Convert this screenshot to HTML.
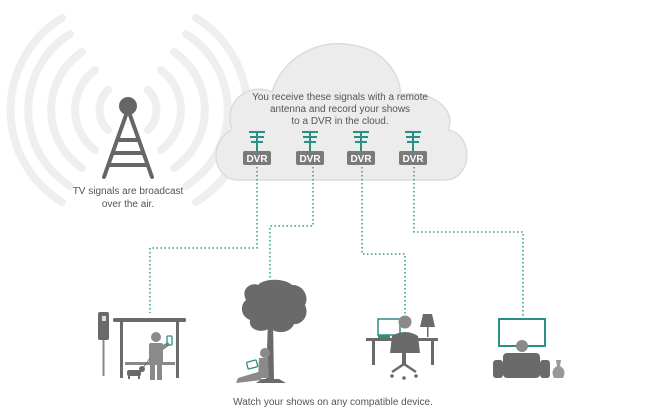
<!DOCTYPE html>
<html><head><meta charset="utf-8"><style>
html,body{margin:0;padding:0;background:#fff;}
svg{display:block;}
text{font-family:"Liberation Sans",sans-serif;fill:#555;}
</style></head><body>
<svg width="645" height="420" viewBox="0 0 645 420" xmlns="http://www.w3.org/2000/svg">
<defs>
  <g id="ant" stroke="#2a8f86" stroke-width="2" fill="none">
    <path d="M0 131 V151"/><path d="M-8 132 H8"/><path d="M-7 137 H7"/><path d="M-6 142 H6"/>
  </g>
</defs>
<!-- signal arcs -->
<g fill="none" stroke="#efefef" stroke-width="8" stroke-linecap="round">
  <path d="M108 90 A28 28 0 0 0 108 130"/><path d="M148 90 A28 28 0 0 1 148 130"/>
  <path d="M95 70 A50 50 0 0 0 95 150"/><path d="M161 70 A50 50 0 0 1 161 150"/>
  <path d="M82 52 A70 70 0 0 0 82 168"/><path d="M174 52 A70 70 0 0 1 174 168"/>
  <path d="M70 34 A90 90 0 0 0 70 186"/><path d="M186 34 A90 90 0 0 1 186 186"/>
  <path d="M62 18 A108 108 0 0 0 62 202"/><path d="M196 18 A108 108 0 0 1 196 202"/>
</g>
<!-- tower -->
<g fill="#666" stroke="#666">
  <circle cx="128" cy="106" r="9" stroke="none"/>
  <g stroke-width="4" fill="none" stroke-linecap="round">
    <path d="M126 115 L104 177"/><path d="M130 115 L152 177"/>
    <path d="M119 140 L137 140"/><path d="M114 153 L142 153"/><path d="M110 165 L146 165"/>
  </g>
</g>
<text x="128" y="194" font-size="10" text-anchor="middle">TV signals are broadcast</text>
<text x="128" y="207" font-size="10" text-anchor="middle">over the air.</text>
<!-- cloud -->
<path d="M238 180 C212 180 208 140 232 130 C222 100 250 82 272 92 C282 58 318 38 352 45 C388 50 402 80 400 95 C430 88 458 110 448 130 C475 135 472 180 445 180 Z" fill="#ececec" stroke="#dcdcdc" stroke-width="1.5"/>
<text x="340" y="100" font-size="10" text-anchor="middle">You receive these signals with a remote</text>
<text x="340" y="112" font-size="10" text-anchor="middle">antenna and record your shows</text>
<text x="340" y="124" font-size="10" text-anchor="middle">to a DVR in the cloud.</text>
<g transform="translate(257,0)"><use href="#ant"/><rect x="-14" y="151" width="28" height="14" rx="2" fill="#7a7a7a"/><text x="0" y="162" font-size="10" font-weight="bold" text-anchor="middle" style="fill:#fff">DVR</text></g>
<g transform="translate(310,0)"><use href="#ant"/><rect x="-14" y="151" width="28" height="14" rx="2" fill="#7a7a7a"/><text x="0" y="162" font-size="10" font-weight="bold" text-anchor="middle" style="fill:#fff">DVR</text></g>
<g transform="translate(361,0)"><use href="#ant"/><rect x="-14" y="151" width="28" height="14" rx="2" fill="#7a7a7a"/><text x="0" y="162" font-size="10" font-weight="bold" text-anchor="middle" style="fill:#fff">DVR</text></g>
<g transform="translate(413,0)"><use href="#ant"/><rect x="-14" y="151" width="28" height="14" rx="2" fill="#7a7a7a"/><text x="0" y="162" font-size="10" font-weight="bold" text-anchor="middle" style="fill:#fff">DVR</text></g>
<!-- dotted connectors -->
<g fill="none" stroke="#2a9a8c" stroke-width="1.5" stroke-dasharray="1.5 2.5">
  <path d="M257 167 V248 H150 V313"/>
  <path d="M313 167 V226 H270 V283"/>
  <path d="M362 167 V254 H405 V316"/>
  <path d="M414 167 V232 H523 V318"/>
</g>
<!-- bus stop -->
<g fill="#6a6a6a">
  <rect x="98" y="312" width="11" height="28" rx="2"/>
  <rect x="102" y="316" width="4" height="5" fill="#ddd"/>
  <rect x="102.5" y="340" width="2" height="36" fill="#888"/>
  <rect x="113" y="318" width="73" height="4" rx="1.5"/>
  <rect x="120" y="320" width="3" height="58"/>
  <rect x="176" y="320" width="3" height="58"/>
  <rect x="125" y="362" width="50" height="3" fill="#888"/>
  <circle cx="156" cy="337" r="5" fill="#8a8a8a"/>
  <rect x="149" y="343" width="14" height="20" rx="2" fill="#8a8a8a"/>
  <rect x="150" y="360" width="5" height="20" fill="#8a8a8a"/><rect x="157" y="360" width="5" height="20" fill="#8a8a8a"/>
  <path d="M161 346 L168 342 L170 345 L163 350Z" fill="#8a8a8a"/>
  <rect x="167" y="336" width="5" height="9" rx="1" fill="none" stroke="#2a8f86" stroke-width="1.3"/>
  <rect x="127" y="370" width="14" height="6" rx="2"/>
  <circle cx="142" cy="369" r="3"/>
  <rect x="128" y="374" width="2" height="5"/><rect x="138" y="374" width="2" height="5"/>
  <path d="M143 368 L150 358" stroke="#666" stroke-width="0.8"/>
</g>
<!-- tree -->
<g fill="#6a6a6a">
  <path d="M246 300 C240 288 252 282 258 285 C264 278 285 278 292 285 C302 284 310 296 305 305 C310 315 302 325 294 324 C290 334 276 334 270 328 C262 334 248 330 250 320 C240 316 240 305 246 300Z"/>
  <path d="M268 320 L273 320 L274 380 L266 380Z"/>
  <path d="M256 383 L286 383 L279 379 L262 379Z"/>
  <circle cx="265" cy="353" r="5" fill="#8a8a8a"/>
  <path d="M259 358 L268 358 L269 378 L258 378Z" fill="#8a8a8a"/>
  <path d="M258 372 L238 378 L236 383 L262 380Z" fill="#8a8a8a"/>
  <rect x="247" y="361" width="10" height="7" rx="1" fill="#fff" stroke="#2a8f86" stroke-width="1.3" transform="rotate(-15 252 364)"/>
</g>
<!-- desk -->
<g fill="#6a6a6a">
  <rect x="378" y="319" width="22" height="16" fill="#fff" stroke="#2a8f86" stroke-width="1.5"/>
  <rect x="378" y="335" width="12" height="3" fill="#2a8f86"/>
  <circle cx="405" cy="322" r="6.5" fill="#8a8a8a"/>
  <rect x="366" y="338" width="72" height="3"/>
  <rect x="372" y="341" width="3" height="24"/><rect x="431" y="341" width="3" height="24"/>
  <path d="M420 327 L423 314 L432 314 L435 327Z"/>
  <rect x="427" y="327" width="1.5" height="10"/>
  <path d="M392 336 Q405 328 418 336 L420 353 L390 353Z"/>
  <rect x="402" y="353" width="4" height="12"/>
  <path d="M392 372 L404 364 L416 372" fill="none" stroke="#6a6a6a" stroke-width="2.5"/>
  <circle cx="392" cy="376" r="1.8"/><circle cx="416" cy="376" r="1.8"/><circle cx="404" cy="378" r="1.8"/>
</g>
<!-- tv -->
<g fill="#6a6a6a">
  <rect x="499" y="319" width="46" height="27" fill="#fff" stroke="#2a8f86" stroke-width="2"/>
  <circle cx="522" cy="346" r="6" fill="#8a8a8a"/>
  <rect x="503" y="353" width="37" height="25" rx="4"/>
  <rect x="493" y="360" width="10" height="18" rx="3"/>
  <rect x="540" y="360" width="10" height="18" rx="3"/>
  <path d="M556 360 L561 360 L560 366 Q567 370 563 378 L554 378 Q550 370 557 366Z" fill="#999"/>
</g>
<text x="333" y="405" font-size="10" text-anchor="middle">Watch your shows on any compatible device.</text>
</svg>
</body></html>
